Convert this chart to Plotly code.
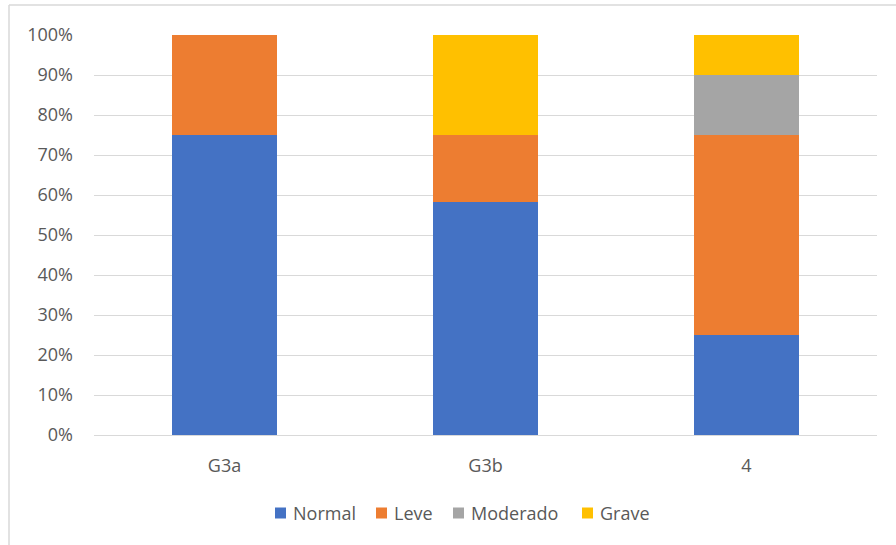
import plotly.graph_objects as go

# Stacked 100% share per group
categories = ["G3a", "G3b", "4"]
normal = [75.0, 58.33, 25.0]
leve = [25.0, 16.67, 50.0]
moderado = [0.0, 0.0, 15.0]
grave = [0.0, 25.0, 10.0]

series = [
    ("Normal", normal, "#4472C4"),
    ("Leve", leve, "#ED7D31"),
    ("Moderado", moderado, "#A5A5A5"),
    ("Grave", grave, "#FFC000"),
]

W, H = 896, 545
ML, MR, MT, MB = 94, 19, 35, 110
PW, PH = W - ML - MR, H - MT - MB

fig = go.Figure()
for name, vals, color in series:
    fig.add_trace(go.Bar(
        x=categories, y=vals, name=name,
        marker=dict(color=color, line=dict(width=0)),
        showlegend=False,
    ))

FONT = "Open Sans, Liberation Sans, sans-serif"
TXT = "#595959"
FS = 18


def px_x(p):
    return (p - ML) / PW


def px_y(p):
    return 1 - (p - MT) / PH


# Light chart-area frame (top and left edges visible)
frame = "#D9D9D9"
fig.add_shape(type="line", xref="paper", yref="paper",
              x0=px_x(9), x1=px_x(W + 5), y0=px_y(5), y1=px_y(5),
              line=dict(color=frame, width=1.5))
fig.add_shape(type="line", xref="paper", yref="paper",
              x0=px_x(9), x1=px_x(9), y0=px_y(5), y1=px_y(H + 5),
              line=dict(color=frame, width=1.5))

# Legend row below the axis: square swatch followed by the series name
legend_x = [275, 376, 453, 582]
legend_y = 513
for (name, _, color), lx in zip(series, legend_x):
    fig.add_shape(type="rect", xref="paper", yref="paper",
                  x0=px_x(lx), x1=px_x(lx + 11),
                  y0=px_y(legend_y - 5.5), y1=px_y(legend_y + 5.5),
                  fillcolor=color, line=dict(width=0))
    fig.add_annotation(xref="paper", yref="paper",
                       x=px_x(lx + 16), y=px_y(legend_y),
                       xanchor="left", yanchor="middle", showarrow=False,
                       text=name, font=dict(family=FONT, size=FS, color=TXT))

fig.update_layout(
    width=W, height=H,
    margin=dict(l=ML, r=MR, t=MT, b=MB),
    barmode="stack",
    bargap=0.6,
    plot_bgcolor="white",
    paper_bgcolor="white",
    showlegend=False,
    font=dict(family=FONT, size=FS, color=TXT),
    xaxis=dict(
        showgrid=False, showline=True, linecolor="#D9D9D9", linewidth=1,
        ticks="", tickfont=dict(size=FS, color=TXT), ticklabelstandoff=14,
    ),
    yaxis=dict(
        range=[0, 100], tickvals=list(range(0, 101, 10)),
        ticktext=[f"{v}%" for v in range(0, 101, 10)],
        showgrid=True, gridcolor="#D9D9D9", gridwidth=1,
        zeroline=False, showline=False, ticks="",
        tickfont=dict(size=FS, color=TXT), ticklabelstandoff=20,
    ),
)

fig.write_html("out.html")
